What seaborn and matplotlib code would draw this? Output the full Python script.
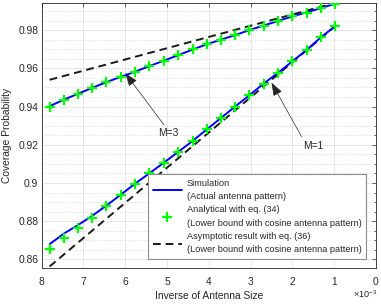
import matplotlib
matplotlib.use("Agg")
import matplotlib.pyplot as plt
import seaborn as sns
from matplotlib.lines import Line2D
from matplotlib.ticker import MultipleLocator, FuncFormatter

# inverse of antenna size (x 1e-3)
inv_size = [7.81, 7.47, 7.13, 6.79, 6.45, 6.10, 5.76, 5.42, 5.08, 4.74, 4.39,
            4.05, 3.71, 3.37, 3.03, 2.69, 2.34, 2.00, 1.66, 1.32, 0.98]

# M=3
sim_m3 = [0.9402, 0.9436, 0.9467, 0.9498, 0.9528, 0.9556, 0.9583, 0.9612, 0.9640,
          0.9668, 0.9698, 0.9726, 0.9750, 0.9774, 0.9800, 0.9824, 0.9848, 0.9872,
          0.9893, 0.9915, 0.9938]
ana_m3 = [0.9400, 0.9435, 0.9467, 0.9497, 0.9528, 0.9556, 0.9582, 0.9612, 0.9640,
          0.9668, 0.9699, 0.9727, 0.9750, 0.9774, 0.9800, 0.9824, 0.9847, 0.9873,
          0.9892, 0.9915, 0.9939]

# M=1
sim_m1 = [0.8680, 0.8735, 0.8780, 0.8828, 0.8882, 0.8940, 0.8997, 0.9051, 0.9106,
          0.9161, 0.9220, 0.9280, 0.9340, 0.9400, 0.9459, 0.9520, 0.9577, 0.9637,
          0.9696, 0.9762, 0.9820]
ana_m1 = [0.8655, 0.8713, 0.8763, 0.8817, 0.8878, 0.8937, 0.8995, 0.9050, 0.9105,
          0.9160, 0.9220, 0.9280, 0.9340, 0.9400, 0.9459, 0.9520, 0.9577, 0.9637,
          0.9696, 0.9762, 0.9820]

# asymptotic (straight lines)
asym_x = [7.81, 0.98]
asym_m3 = [0.9540, 0.9942]
asym_m1 = [0.8563, 0.9820]

legend_labels = ["Simulation\n(Actual antenna pattern)",
                 "Analytical with eq. (34)\n(Lower bound with cosine antenna pattern)",
                 "Asymptotic result with eq. (36)\n(Lower bound with cosine antenna pattern)"]

sns.set_theme(style="whitegrid")
plt.rcParams["font.family"] = ["Liberation Sans", "DejaVu Sans"]
plt.rcParams["mathtext.fontset"] = "custom"
plt.rcParams["mathtext.rm"] = "Liberation Sans"

dark = "#262626"
blue = (0, 0, 1)
green = (0, 1, 0)
dash = (0, (4, 2.5))

fig = plt.figure(figsize=(3.81, 3.05), dpi=100)
ax = fig.add_axes([0.1094, 0.1213, 0.8774, 0.8689])
ax.set_facecolor("white")

for sim, ana, asy in [(sim_m3, ana_m3, asym_m3), (sim_m1, ana_m1, asym_m1)]:
    sns.lineplot(x=asym_x, y=asy, ax=ax, color="k", lw=1.4, linestyle=dash,
                 sort=False, estimator=None, zorder=3)
    sns.lineplot(x=inv_size, y=sim, ax=ax, color=blue, lw=1.4,
                 sort=False, estimator=None, zorder=4)
    sns.lineplot(x=inv_size, y=ana, ax=ax, color=green, linestyle="", marker="+",
                 ms=7.5, mew=1.6, mec=green, sort=False, estimator=None, zorder=5)

ax.set_xlim(8, 0)
ax.set_ylim(0.8555, 0.9942)
ax.xaxis.set_major_locator(MultipleLocator(1))
ax.yaxis.set_major_locator(MultipleLocator(0.02))
ax.yaxis.set_minor_locator(MultipleLocator(0.005))
ax.yaxis.set_major_formatter(FuncFormatter(lambda v, p: "%g" % round(v, 3)))
ax.xaxis.set_major_formatter(FuncFormatter(lambda v, p: "%g" % v))

ax.set_axisbelow(True)
ax.grid(True, which="major", color="#e2e2e2", lw=0.6, ls="-")
ax.yaxis.grid(True, which="minor", color="#cfcfcf", lw=0.6, ls=(0, (1, 2)))
ax.xaxis.grid(False, which="minor")

ax.tick_params(which="both", direction="in", top=True, right=True, color=dark,
               width=0.5, labelsize=7.4, labelcolor=dark)
ax.tick_params(which="major", length=3)
ax.tick_params(which="minor", length=1.5)
ax.tick_params(axis="x", pad=6.5)
ax.tick_params(axis="y", pad=2.5)
for s in ax.spines.values():
    s.set_color(dark)
    s.set_linewidth(0.6)

ax.set_xlabel("Inverse of Antenna Size", fontsize=7.4, color=dark)
ax.set_ylabel("Coverage Probability", fontsize=7.4, color=dark)
ax.xaxis.set_label_coords(0.5, -0.088)
ax.yaxis.set_label_coords(-0.088, 0.5)
fig.text(378 / 381, 7 / 305, r"$\times10^{-3}$", ha="right", va="baseline",
         fontsize=6.6, color=dark)

# annotations
arrow = dict(arrowstyle="-|>,head_length=1.1,head_width=0.4", color=dark, lw=0.5,
             shrinkA=0, shrinkB=0, mutation_scale=7.4)
ax.annotate("", xy=(6.0, 0.9575), xytext=(5.07, 0.9303), arrowprops=arrow)
ax.text(4.98, 0.9262, "M=3", fontsize=7.4, color=dark, ha="center", va="center")
ax.annotate("", xy=(2.5, 0.9525), xytext=(1.78, 0.9242), arrowprops=arrow)
ax.text(1.50, 0.9195, "M=1", fontsize=7.4, color=dark, ha="center", va="center")

handles = [Line2D([], [], color=blue, lw=1.4),
           Line2D([], [], color=green, ls="", marker="+", ms=7.5, mew=1.6),
           Line2D([], [], color="k", lw=1.4, ls=dash)]
leg = ax.legend(handles, legend_labels, loc="lower right", bbox_to_anchor=(0.97, 0.034),
                borderaxespad=0, fontsize=6.6, frameon=True, fancybox=False,
                framealpha=1, edgecolor="#8c8c8c", borderpad=0.5, labelspacing=0.5,
                handlelength=3.2, handletextpad=0.5)
leg.get_frame().set_linewidth(0.8)
for t in leg.get_texts():
    t.set_linespacing(1.6)
    t.set_color(dark)

fig.savefig("out.png", dpi=100, facecolor="white")
